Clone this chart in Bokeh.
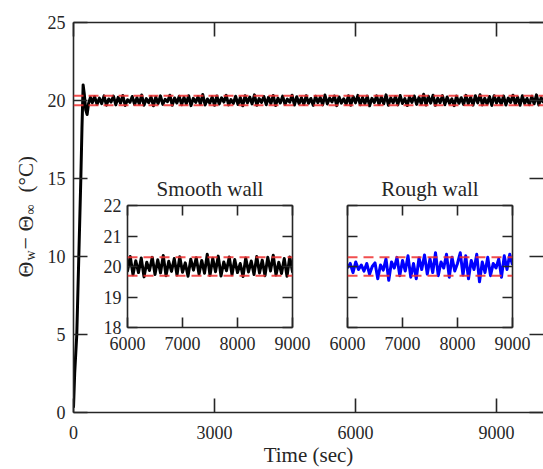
from math import pi
from bokeh.plotting import figure
from bokeh.models import Range1d, LinearAxis, FixedTicker, Span
from bokeh.core.properties import value
from bokeh.embed import file_html
from bokeh.resources import INLINE

# ---------------- data ----------------
startup_t = [0, 25, 70, 113, 156, 180, 205, 230, 260, 290, 320, 360]
startup_v = [0.3, 2.5, 5.0, 10.0, 15.0, 18.2, 21.0, 20.4, 19.4, 19.1, 19.8, 20.2]

steady_t = list(range(400, 10001, 50))
smooth_v = [
    19.85, 20.25, 19.75, 20.15, 19.80, 20.30, 19.70, 20.10, 19.90, 20.28,
    19.72, 20.20, 19.82, 20.32, 19.68, 20.05, 19.88, 20.26, 19.74, 20.18,
    19.78, 20.35, 19.70, 20.12, 19.86, 20.24, 19.66, 20.22, 19.80, 20.30,
    19.75, 20.08, 19.92, 20.34, 19.70, 20.16, 19.84, 20.27, 19.73, 20.20,
    19.79, 20.31, 19.67, 20.14, 19.88, 20.25, 19.76, 20.38, 19.71, 20.10,
    19.83, 20.23, 19.69, 20.29, 19.77, 20.17, 19.90, 20.33, 19.72, 20.06,
    19.81, 20.27, 19.74, 20.19, 19.66, 20.30, 19.85, 20.22, 19.78, 20.36,
    19.70, 20.12, 19.87, 20.26, 19.73, 20.21, 19.80, 20.32, 19.68, 20.15,
    19.84, 20.28, 19.75, 20.09, 19.89, 20.34, 19.71, 20.24, 19.79, 20.18,
    19.74, 20.30, 19.82, 20.13, 19.69, 20.27, 19.86, 20.20, 19.72, 20.35,
    19.78, 20.16, 19.91, 20.29, 19.67, 20.23, 19.83, 20.11, 19.76, 20.31,
    19.70, 20.25, 19.85, 20.33, 19.73, 20.19, 19.80, 20.28, 19.66, 20.14,
    19.87, 20.30, 19.74, 20.22, 19.79, 20.36, 19.70, 20.17, 19.84, 20.26,
    19.72, 20.32, 19.81, 20.12, 19.68, 20.24, 19.88, 20.29, 19.75, 20.20,
    19.78, 20.40, 19.71, 20.27, 19.83, 20.34, 19.69, 20.15, 19.86, 20.31,
    19.73, 20.23, 19.80, 20.10, 19.67, 20.28, 19.82, 20.18, 19.74, 20.33,
    19.79, 20.21, 19.70, 20.30, 19.85, 20.37, 19.72, 20.14, 19.77, 20.26,
    19.68, 20.31, 19.83, 20.20, 19.75, 20.29, 19.71, 20.16, 19.87, 20.34,
    19.76, 20.22, 19.69, 20.30, 19.81, 20.13, 19.73, 20.27, 19.79, 20.36,
    19.72, 20.18, 19.85,
]

rough_t = list(range(6000, 9001, 50))
rough_v = [
    19.95, 20.10, 19.80, 20.15, 19.90, 20.05, 19.85, 20.10, 19.75, 20.00,
    20.12, 19.60, 20.05, 19.88, 20.25, 19.55, 20.15, 19.95, 20.30, 19.70,
    20.20, 19.85, 20.35, 19.65, 20.10, 19.60, 20.28, 19.90, 20.38, 19.75,
    20.25, 19.80, 20.45, 19.70, 20.15, 19.95, 20.40, 19.65, 20.30, 19.85,
    20.10, 20.45, 19.72, 20.35, 19.60, 20.20, 19.90, 20.40, 19.50, 20.15,
    19.80, 20.30, 19.70, 20.10, 19.95, 20.25, 19.65, 20.35, 19.90, 20.40,
    20.05,
]

band_levels = [19.7, 20.3]
main_xticks = [0, 3000, 6000, 9000]
main_yticks = [0, 5, 10, 15, 20, 25]
inset_xticks = [6000, 7000, 8000, 9000]
inset_yticks = [18, 19, 20, 21, 22]
ylabel_parts = ["Θ", "w", "−", "Θ", "∞", "(°C)"]

# ---------------- styling ----------------
FONT = "Liberation Serif"
AX = "#262626"
RED = "#ee3030"


def style_axis(ax, tick_len, labels=True, standoff=8, size="18px", line=True):
    ax.axis_line_color = AX if line else None
    ax.axis_line_width = 1.6
    ax.major_tick_line_color = AX
    ax.major_tick_line_width = 1.6
    ax.major_tick_in = tick_len
    ax.major_tick_out = 0
    ax.minor_tick_line_color = None
    ax.major_label_text_font = FONT
    ax.major_label_text_color = AX
    ax.major_label_text_font_size = size
    ax.major_label_standoff = standoff
    if not labels:
        ax.major_label_text_font_size = "0px"
        ax.major_label_text_color = None
        ax.major_label_standoff = 0


# ---------------- main figure ----------------
p = figure(width=543, height=469, output_backend="svg", toolbar_location=None,
           x_range=Range1d(0, 10000), y_range=Range1d(0, 25),
           min_border_left=73, min_border_right=0, min_border_top=22,
           min_border_bottom=54)
p.outline_line_color = None
p.xgrid.visible = False
p.ygrid.visible = False
p.background_fill_color = "white"
p.border_fill_color = "white"

p.xaxis.ticker = FixedTicker(ticks=main_xticks)
p.yaxis.ticker = FixedTicker(ticks=main_yticks)
style_axis(p.xaxis[0], 14, standoff=13)
style_axis(p.yaxis[0], 14, standoff=8)
p.xaxis.axis_label = "Time (sec)"
p.xaxis.axis_label_text_font = FONT
p.xaxis.axis_label_text_font_style = "normal"
p.xaxis.axis_label_text_font_size = "21px"
p.xaxis.axis_label_text_color = AX
p.xaxis.axis_label_standoff = 1

top_ax = LinearAxis(ticker=FixedTicker(ticks=main_xticks))
style_axis(top_ax, 14, labels=False)
p.add_layout(top_ax, "above")
right_ax = LinearAxis(ticker=FixedTicker(ticks=main_yticks))
style_axis(right_ax, 14, labels=False, line=False)
p.add_layout(right_ax, "right")

t_all = startup_t + steady_t
v_all = startup_v + smooth_v
p.line(t_all, v_all, line_color="black", line_width=3, line_join="round")
for lv in band_levels:
    p.add_layout(Span(location=lv, dimension="width", line_color=RED,
                      line_alpha=0.85, line_width=2, line_dash="10 5"))
p.styles = {"position": "absolute", "left": "0px", "top": "0px"}

# ---------------- y-axis label (rotated, with subscripts) ----------------
yl = figure(width=40, height=150, output_backend="svg", toolbar_location=None,
            x_range=Range1d(0, 40), y_range=Range1d(0, 150),
            x_axis_type=None, y_axis_type=None,
            min_border_left=0, min_border_right=0, min_border_top=0, min_border_bottom=0)
yl.outline_line_color = None
yl.xgrid.visible = False
yl.ygrid.visible = False
yl.background_fill_alpha = 0
yl.border_fill_alpha = 0
yl.text(x=[17, 22, 17, 17, 22, 17], y=[13, 30, 41, 59, 76, 98], text=ylabel_parts,
        angle=pi / 2, text_font=value(FONT),
        text_font_size=["22px", "14px", "22px", "22px", "14px", "21px"],
        text_color=AX, text_baseline="alphabetic", text_align="left")
yl.styles = {"position": "absolute", "left": "8px", "top": "140px"}


# ---------------- insets ----------------
def make_inset(title, left_labels, frame_left, frame_top):
    bl, bt, br, bb = 40, 45, 20, 30
    f = figure(frame_width=165, frame_height=122, output_backend="svg",
               toolbar_location=None, x_range=Range1d(6000, 9000),
               y_range=Range1d(18, 22), min_border_left=bl, min_border_top=bt,
               min_border_right=br, min_border_bottom=bb, title=title)
    f.outline_line_color = None
    f.xgrid.visible = False
    f.ygrid.visible = False
    f.background_fill_color = "white"
    f.border_fill_alpha = 0
    f.title.align = "center"
    f.title.text_font = FONT
    f.title.text_font_size = "21px"
    f.title.text_font_style = "normal"
    f.title.text_color = AX
    f.xaxis.ticker = FixedTicker(ticks=inset_xticks)
    f.yaxis.ticker = FixedTicker(ticks=inset_yticks)
    style_axis(f.xaxis[0], 10, standoff=9)
    style_axis(f.yaxis[0], 10, labels=left_labels, standoff=6)
    ta = LinearAxis(ticker=FixedTicker(ticks=inset_xticks))
    style_axis(ta, 10, labels=False)
    f.add_layout(ta, "above")
    ra = LinearAxis(ticker=FixedTicker(ticks=inset_yticks))
    style_axis(ra, 10, labels=False)
    f.add_layout(ra, "right")
    f.styles = {"position": "absolute", "left": f"{frame_left - bl}px",
                "top": f"{frame_top - bt}px"}
    return f


s = make_inset("Smooth wall", True, 127, 205)
s.line(t_all, v_all, line_color="black", line_width=3, line_join="round")
for lv in band_levels:
    s.add_layout(Span(location=lv, dimension="width", line_color=RED,
                      line_alpha=0.85, line_width=2, line_dash="10 6"))

r = make_inset("Rough wall", False, 347, 205)
r.line(rough_t, rough_v, line_color="blue", line_width=3, line_join="round")
for lv in band_levels:
    r.add_layout(Span(location=lv, dimension="width", line_color=RED,
                      line_alpha=0.85, line_width=2, line_dash="10 6"))

open("out.html", "w").write(file_html([p, yl, s, r], INLINE))
